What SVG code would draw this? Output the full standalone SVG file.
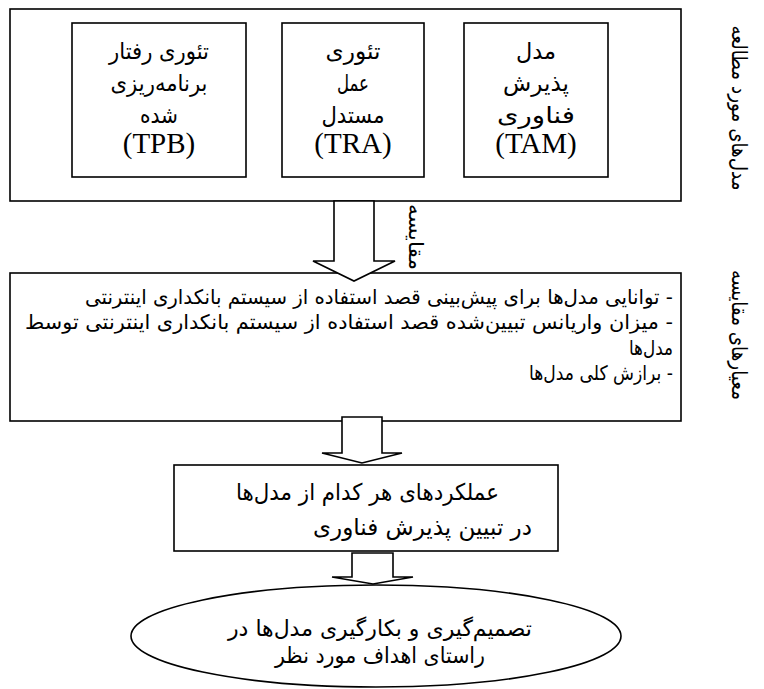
<svg xmlns="http://www.w3.org/2000/svg" width="764" height="689" viewBox="0 0 764 689">
<style>
.box{fill:#fff;stroke:#000;stroke-width:1.6}
.arr{fill:#fff;stroke:#000;stroke-width:1.6;stroke-linejoin:miter}
.fa{font-family:"DejaVu Sans","Noto Sans",sans-serif;fill:#000;direction:rtl}
.lat{font-family:"Liberation Serif","Times New Roman",serif;fill:#000;font-size:29px}
.c{text-anchor:middle}
.in{font-size:23px}
</style>
<rect width="764" height="689" fill="#fff"/>
<g id="models">
<rect class="box" x="10" y="9" width="671" height="192"/>
</g>
<g id="tpb">
<rect class="box" x="72" y="23" width="174" height="154"/>
<text class="fa c in" x="159" y="59" textLength="100" lengthAdjust="spacingAndGlyphs">تئوری رفتار</text>
<text class="fa c in" x="159" y="91" textLength="97" lengthAdjust="spacingAndGlyphs">برنامه‌ریزی</text>
<text class="fa c in" x="159" y="123" textLength="38" lengthAdjust="spacingAndGlyphs">شده</text>
<text class="lat c" x="159" y="153">(TPB)</text>
</g>
<g id="tra">
<rect class="box" x="282" y="23" width="142" height="154"/>
<text class="fa c in" x="353" y="59" textLength="55" lengthAdjust="spacingAndGlyphs">تئوری</text>
<text class="fa c in" x="353" y="91" textLength="32" lengthAdjust="spacingAndGlyphs">عمل</text>
<text class="fa c in" x="353" y="123" textLength="63" lengthAdjust="spacingAndGlyphs">مستدل</text>
<text class="lat c" x="353" y="153">(TRA)</text>
</g>
<g id="tam">
<rect class="box" x="464" y="23" width="144" height="154"/>
<text class="fa c in" x="536" y="59" textLength="40" lengthAdjust="spacingAndGlyphs">مدل</text>
<text class="fa c in" x="536" y="91" textLength="66" lengthAdjust="spacingAndGlyphs">پذیرش</text>
<text class="fa c in" x="536" y="123" textLength="78" lengthAdjust="spacingAndGlyphs">فناوری</text>
<text class="lat c" x="536" y="153">(TAM)</text>
</g>
<g id="criteria">
<rect class="box" x="10" y="273" width="671" height="148"/>
<text class="fa" x="673" y="304" font-size="20" text-anchor="start" textLength="588" lengthAdjust="spacingAndGlyphs">- توانایی مدل‌ها برای پیش‌بینی قصد استفاده از سیستم  بانکداری اینترنتی</text>
<text class="fa" x="673" y="329" font-size="20" text-anchor="start" textLength="648" lengthAdjust="spacingAndGlyphs">- میزان واریانس تبیین‌شده قصد استفاده از سیستم بانکداری اینترنتی توسط</text>
<text class="fa" x="673" y="355" font-size="20" text-anchor="start" textLength="44" lengthAdjust="spacingAndGlyphs">مدل‌ها</text>
<text class="fa" x="673" y="380" font-size="20" text-anchor="start" textLength="144" lengthAdjust="spacingAndGlyphs">- برازش کلی مدل‌ها</text>
</g>
<g id="performance">
<rect class="box" x="174" y="465" width="384" height="86"/>
<text class="fa" x="499" y="500" font-size="23" text-anchor="start" textLength="263" lengthAdjust="spacingAndGlyphs">عملکردهای هر کدام از مدل‌ها</text>
<text class="fa" x="532" y="535" font-size="23" text-anchor="start" textLength="219" lengthAdjust="spacingAndGlyphs">در تبیین پذیرش فناوری</text>
</g>
<g id="decision">
<ellipse class="box" cx="376" cy="636" rx="245" ry="51"/>
<text class="fa c" x="380" y="636" font-size="22" textLength="304" lengthAdjust="spacingAndGlyphs">تصمیم‌گیری و بکارگیری مدل‌ها در</text>
<text class="fa c" x="380" y="663" font-size="22" textLength="210" lengthAdjust="spacingAndGlyphs">راستای اهداف مورد نظر</text>
</g>
<g id="connectors">
<polygon class="arr" points="334,201 374,201 374,261 395,261 354,281 313,261 334,261"/>
<polygon class="arr" points="342,417 382,417 382,453 402,453 362,463 322,453 342,453"/>
<polygon class="arr" points="352,553 393,553 393,577 413,577 373,584 332,577 352,577"/>
<text class="fa c" transform="translate(409,237) rotate(90)" font-size="20" textLength="66" lengthAdjust="spacingAndGlyphs">مقایسه</text>
</g>
<g id="labels">
<text class="fa c" transform="translate(732,108) rotate(90)" font-size="21" textLength="165" lengthAdjust="spacingAndGlyphs">مدل‌های مورد مطالعه</text>
<text class="fa c" transform="translate(732,335) rotate(90)" font-size="21" textLength="130" lengthAdjust="spacingAndGlyphs">معیارهای مقایسه</text>
</g>
</svg>
